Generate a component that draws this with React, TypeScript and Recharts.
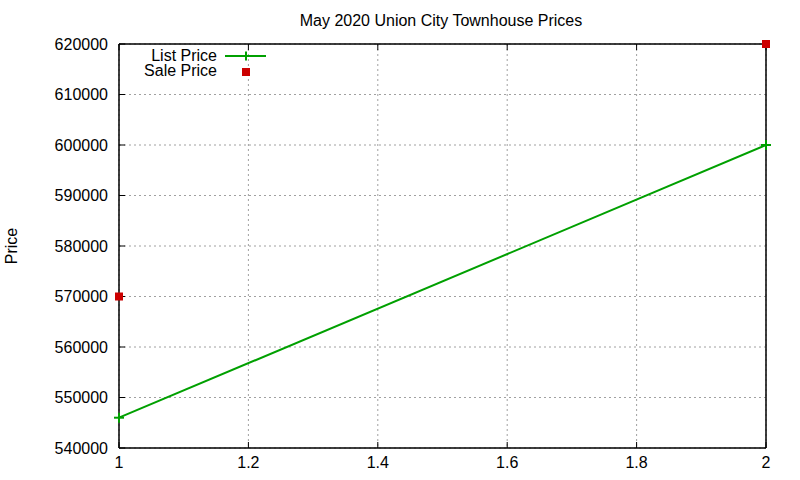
import React from 'react';
import { ComposedChart, Line, Scatter, XAxis, YAxis, CartesianGrid, ReferenceArea } from 'recharts';

const xValues = [1, 2];
const listPrices = [546000, 600000];
const salePrices = [570000, 620000];
const xTicks = [1, 1.2, 1.4, 1.6, 1.8, 2];
const yTicks = [540000, 550000, 560000, 570000, 580000, 590000, 600000, 610000, 620000];

const data = xValues.map((x, i) => ({ x, list: listPrices[i], sale: salePrices[i] }));

const GREEN = '#00a000';
const RED = '#cc0000';
const FONT = '"Liberation Sans", Arial, sans-serif';

const Cross = (props: any) => {
  const { cx, cy } = props;
  if (cx == null || cy == null) return <g />;
  return (
    <g>
      <line x1={cx - 5} x2={cx + 5} y1={cy} y2={cy} stroke={GREEN} strokeWidth={2} />
      <line x1={cx} x2={cx} y1={cy - 5} y2={cy + 5} stroke={GREEN} strokeWidth={2} />
    </g>
  );
};

const Square = (props: any) => {
  const { cx, cy } = props;
  if (cx == null || cy == null) return <g />;
  return <rect x={cx - 4} y={cy - 4} width={8} height={8} fill={RED} />;
};

const empty = () => <g />;

export default function App() {
  return (
    <div style={{ position: 'absolute', left: 0, top: 0, width: 800, height: 480, background: '#fff' }}>
      <div style={{ position: 'absolute', left: 0, top: 0 }}>
        <ComposedChart width={800} height={480} data={data} margin={{ top: 43, right: 33, bottom: 0, left: 0 }}>
          <CartesianGrid
            xAxisId="b"
            yAxisId="l"
            stroke="#a0a0a0"
            strokeDasharray="2 3"
          />
          <ReferenceArea
            xAxisId="b"
            yAxisId="l"
            x1={1}
            x2={2}
            y1={540000}
            y2={620000}
            fill="none"
            fillOpacity={0}
            stroke="#000"
            strokeWidth={1}
            ifOverflow="visible"
          />
          <XAxis
            xAxisId="b"
            dataKey="x"
            type="number"
            domain={[1, 2]}
            ticks={xTicks}
            height={32}
            stroke="#000"
            tickSize={-6}
            tickMargin={15}
            tick={{ fill: '#000', fontSize: 16, fontFamily: FONT }}
            tickFormatter={(v: number) => String(Math.round(v * 10) / 10)}
          />
          <XAxis
            xAxisId="t"
            orientation="top"
            dataKey="x"
            type="number"
            domain={[1, 2]}
            ticks={xTicks}
            height={1}
            stroke="#000"
            tickSize={-6}
            tick={empty}
          />
          <YAxis
            yAxisId="l"
            type="number"
            domain={[540000, 620000]}
            ticks={yTicks}
            width={119}
            stroke="#000"
            tickSize={-6}
            tickMargin={17}
            tick={{ fill: '#000', fontSize: 16, fontFamily: FONT }}
          />
          <YAxis
            yAxisId="r"
            orientation="right"
            type="number"
            domain={[540000, 620000]}
            ticks={yTicks}
            width={1}
            stroke="#000"
            tickSize={-6}
            tick={empty}
          />
          <Line
            xAxisId="b"
            yAxisId="l"
            dataKey="list"
            name="List Price"
            stroke={GREEN}
            strokeWidth={2}
            dot={<Cross />}
            activeDot={false}
            isAnimationActive={false}
          />
          <Scatter
            xAxisId="b"
            yAxisId="l"
            dataKey="sale"
            name="Sale Price"
            fill={RED}
            shape={<Square />}
            isAnimationActive={false}
          />
        </ComposedChart>
      </div>
      <svg width={800} height={480} style={{ position: 'absolute', left: 0, top: 0, pointerEvents: 'none' }}>
        <text x={441} y={26} textAnchor="middle" fontSize={16} fontFamily={FONT} fill="#000">
          May 2020 Union City Townhouse Prices
        </text>
        <text x={17} y={246} textAnchor="middle" fontSize={16} fontFamily={FONT} fill="#000" transform="rotate(-90 17 246)">
          Price
        </text>
        <text x={217} y={61} textAnchor="end" fontSize={16} fontFamily={FONT} fill="#000">List Price</text>
        <line x1={225} x2={266} y1={56} y2={56} stroke={GREEN} strokeWidth={2} />
        <line x1={246} x2={246} y1={51.5} y2={60.5} stroke={GREEN} strokeWidth={2} />
        <text x={217} y={76} textAnchor="end" fontSize={16} fontFamily={FONT} fill="#000">Sale Price</text>
        <rect x={242} y={68} width={8} height={8} fill={RED} />
      </svg>
    </div>
  );
}
